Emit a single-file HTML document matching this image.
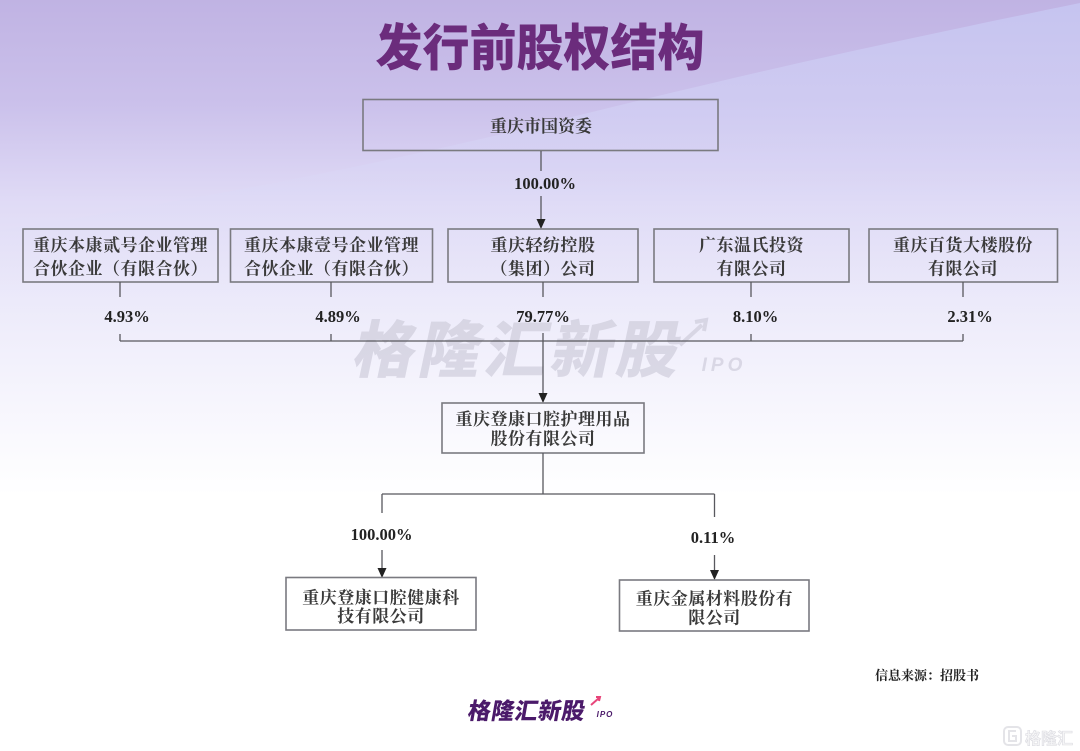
<!DOCTYPE html>
<html><head><meta charset="utf-8"><style>
html,body{margin:0;padding:0;}
body{width:1080px;height:751px;overflow:hidden;background:#fff;}
svg{display:block;}
.bx{fill:none;stroke:#7a7a80;stroke-width:1.6;}
.ln{stroke:#58585e;stroke-width:1.3;fill:none;}
.t{font-family:"Liberation Serif","Noto Serif CJK SC",serif;font-weight:700;font-size:17px;fill:#3a3a3a;text-anchor:middle;letter-spacing:0.5px;}
.p{font-family:"Liberation Serif",serif;font-weight:700;font-size:16.5px;fill:#222;text-anchor:middle;}
.ar{fill:#222;}
</style></head><body>
<svg width="1080" height="751" viewBox="0 0 1080 751" xmlns="http://www.w3.org/2000/svg">
<defs>
<linearGradient id="bg" x1="0" y1="0" x2="0" y2="1" gradientUnits="objectBoundingBox">
<stop offset="0" stop-color="#c0b3e3"/>
<stop offset="0.14" stop-color="#cbc1eb"/>
<stop offset="0.27" stop-color="#e0dbf6"/>
<stop offset="0.4" stop-color="#eceafa"/>
<stop offset="0.53" stop-color="#f6f5fd"/>
<stop offset="0.66" stop-color="#ffffff"/>
<stop offset="1" stop-color="#ffffff"/>
</linearGradient>
<linearGradient id="band" x1="0" y1="0" x2="0" y2="1">
<stop offset="0" stop-color="#c6c6f2" stop-opacity="0.9"/>
<stop offset="0.5" stop-color="#d8d6f6" stop-opacity="0.5"/>
<stop offset="1" stop-color="#eceafa" stop-opacity="0"/>
</linearGradient>
</defs>
<rect x="0" y="0" width="1080" height="751" fill="url(#bg)"/>
<path d="M1080,3 C900,40 760,70 560,120 C400,160 200,200 0,230 L0,320 L1080,320 Z" fill="url(#band)"/>

<!-- title -->
<text x="540" y="62" transform="translate(540,0) scale(1.0,1.06) translate(-540,0)" font-family="'Noto Sans CJK SC','WenQuanYi Zen Hei',sans-serif" font-weight="900" font-size="47" fill="#6b2c7c" text-anchor="middle">发行前股权结构</text>

<!-- watermark -->
<g opacity="0.6">
<text x="520" y="372" transform="translate(520,350) skewX(-12) translate(-520,-350)" font-family="'Noto Sans CJK SC',sans-serif" font-weight="900" font-size="62" fill="#c9c7d6" text-anchor="middle" letter-spacing="4">格隆汇新股</text>
<text x="724" y="371" font-family="'Liberation Sans',sans-serif" font-weight="700" font-style="italic" font-size="19" fill="#c9c7d6" text-anchor="middle" letter-spacing="4">IPO</text>
<path d="M680,345 L702,325 M695,322 L706,320 L704,331" stroke="#c9c7d6" stroke-width="4" fill="none"/>
</g>

<!-- top box -->
<rect class="bx" x="363" y="99.5" width="355" height="51"/>
<text class="t" x="541" y="132" style="letter-spacing:0">重庆市国资委</text>
<line class="ln" x1="541" y1="151" x2="541" y2="171"/>
<text class="p" x="545" y="189">100.00%</text>
<line class="ln" x1="541" y1="196" x2="541" y2="222"/>
<path class="ar" d="M536.5,219 L545.5,219 L541,229 Z"/>

<!-- row 2 boxes -->
<rect class="bx" x="23" y="229" width="195" height="53"/>
<text class="t" x="120.5" y="251">重庆本康贰号企业管理</text>
<text class="t" x="120.5" y="274.5">合伙企业（有限合伙）</text>

<rect class="bx" x="230.5" y="229" width="202" height="53"/>
<text class="t" x="331.5" y="251">重庆本康壹号企业管理</text>
<text class="t" x="331.5" y="274.5">合伙企业（有限合伙）</text>

<rect class="bx" x="448" y="229" width="190" height="53"/>
<text class="t" x="543" y="251">重庆轻纺控股</text>
<text class="t" x="543" y="274.5">（集团）公司</text>

<rect class="bx" x="654" y="229" width="195" height="53"/>
<text class="t" x="751.5" y="251">广东温氏投资</text>
<text class="t" x="751.5" y="274.5">有限公司</text>

<rect class="bx" x="869" y="229" width="188.5" height="53"/>
<text class="t" x="963" y="251">重庆百货大楼股份</text>
<text class="t" x="963" y="274.5">有限公司</text>

<!-- stems -->
<line class="ln" x1="120" y1="282" x2="120" y2="297"/>
<line class="ln" x1="331" y1="282" x2="331" y2="297"/>
<line class="ln" x1="543" y1="282" x2="543" y2="297"/>
<line class="ln" x1="751" y1="282" x2="751" y2="297"/>
<line class="ln" x1="963" y1="282" x2="963" y2="297"/>

<text class="p" x="127" y="322">4.93%</text>
<text class="p" x="338" y="322">4.89%</text>
<text class="p" x="543" y="322">79.77%</text>
<text class="p" x="755.5" y="322">8.10%</text>
<text class="p" x="970" y="322">2.31%</text>

<line class="ln" x1="120" y1="334" x2="120" y2="341"/>
<line class="ln" x1="331" y1="334" x2="331" y2="341"/>
<line class="ln" x1="751" y1="334" x2="751" y2="341"/>
<line class="ln" x1="963" y1="334" x2="963" y2="341"/>
<line class="ln" x1="120" y1="341" x2="963" y2="341"/>
<line class="ln" x1="543" y1="333" x2="543" y2="396"/>
<path class="ar" d="M538.5,393 L547.5,393 L543,403 Z"/>

<!-- middle box -->
<rect class="bx" x="442" y="403" width="202" height="50"/>
<text class="t" x="543" y="425">重庆登康口腔护理用品</text>
<text class="t" x="543" y="444.5">股份有限公司</text>

<line class="ln" x1="543" y1="453" x2="543" y2="494"/>
<line class="ln" x1="382" y1="494" x2="714.5" y2="494"/>
<line class="ln" x1="382" y1="494" x2="382" y2="513"/>
<line class="ln" x1="714.5" y1="494" x2="714.5" y2="517"/>
<text class="p" x="381.5" y="540">100.00%</text>
<text class="p" x="713" y="543">0.11%</text>
<line class="ln" x1="382" y1="550" x2="382" y2="571"/>
<path class="ar" d="M377.5,568 L386.5,568 L382,578 Z"/>
<line class="ln" x1="714.5" y1="555" x2="714.5" y2="573"/>
<path class="ar" d="M710,570 L719,570 L714.5,580 Z"/>

<!-- bottom boxes -->
<rect class="bx" x="286" y="577.5" width="190" height="52.5"/>
<text class="t" x="381" y="603.5">重庆登康口腔健康科</text>
<text class="t" x="381" y="622">技有限公司</text>

<rect class="bx" x="619.5" y="580" width="189.5" height="51"/>
<text class="t" x="714.5" y="604.5">重庆金属材料股份有</text>
<text class="t" x="714.5" y="623.5">限公司</text>

<!-- source -->
<text x="927" y="680" font-family="'Liberation Serif','Noto Serif CJK SC',serif" font-weight="700" font-size="13" fill="#222" text-anchor="middle">信息来源：招股书</text>

<!-- logo -->
<text x="527" y="719" transform="translate(527,710) skewX(-10) translate(-527,-710)" font-family="'Noto Sans CJK SC',sans-serif" font-weight="900" font-size="23" fill="#4b1a6a" text-anchor="middle" letter-spacing="0.5">格隆汇新股</text>
<text x="605" y="717" font-family="'Liberation Sans',sans-serif" font-weight="700" font-style="italic" font-size="8" fill="#4b1a6a" text-anchor="middle" letter-spacing="1">IPO</text>
<path d="M591,705 L599,698 M596,697 L600,697 L599,701" stroke="#e8457a" stroke-width="2" fill="none"/>

<!-- bottom-right watermark -->
<g opacity="0.9">
<rect x="1004" y="727" width="17" height="18" rx="4" fill="none" stroke="#e2e2e6" stroke-width="2"/>
<path d="M1016,731 L1009,731 L1009,741 L1016,741 L1016,736 L1012,736" stroke="#e2e2e6" stroke-width="2" fill="none"/>
<text x="1049" y="744" font-family="'Noto Sans CJK SC',sans-serif" font-weight="700" font-size="16" fill="#f4f4f6" stroke="#d8d8de" stroke-width="0.6" text-anchor="middle">格隆汇</text>
</g>
</svg>
</body></html>
